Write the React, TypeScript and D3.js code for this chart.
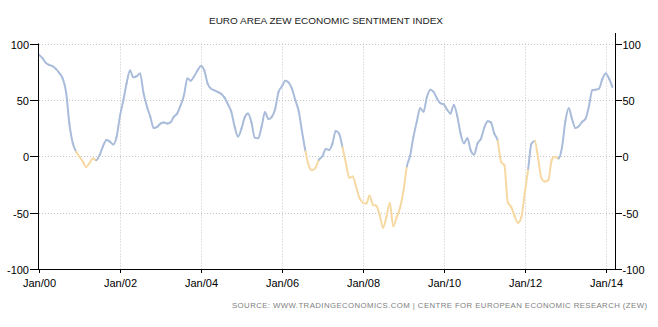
import React, { useMemo } from 'react';
import * as d3 from 'd3';

const W = 658;
const H = 327;

const startYear = 2000;
const v2000 = [90, 87, 83, 81, 80, 77.5, 74, 69, 57, 29, 11.5, 4];
const v2001 = [-0.5, -5, -9.5, -6, -2, -3.5, 1, 9, 14.5, 13, 10.5, 17];
const v2002 = [36, 50, 64.5, 76, 70, 71, 73.5, 56, 44, 35, 25, 26];
const v2003 = [29, 30, 29, 30, 35, 38, 45, 54, 69, 67, 71, 76];
const v2004 = [80, 76, 64.5, 60, 58.5, 57, 55.5, 52, 46, 39.5, 26, 17.5];
const v2005 = [24.5, 35, 38, 30, 16.5, 16, 26, 39, 33, 35, 42, 57];
const v2006 = [62, 67, 65.5, 60, 50, 40, 22, 4.5, -8.5, -12.5, -10, -3];
const v2007 = [0, 6.5, 5.5, 11, 22.5, 20, 8, -6, -19, -18, -27, -37];
const v2008 = [-41, -42, -35, -43, -44, -52, -63.5, -53.5, -41.5, -62, -54, -46];
const v2009 = [-31, -9, 0, 17, 30.5, 42.5, 39.5, 52.5, 59, 57, 51, 47];
const v2010 = [46, 41, 38, 45.5, 36, 20, 11.5, 16, 5, 1.5, 11.5, 15.5];
const v2011 = [25.5, 31, 30, 20, 14, -5, -8, -41, -45, -53, -59, -54];
const v2012 = [-32.5, -11, 11, 13.5, -2.5, -20, -22.5, -21, -3, -0.5, -2, 7.5];
const v2013 = [31, 42.5, 33.5, 25, 26.5, 30.5, 33, 44, 58.5, 59, 60, 68.5];
const v2014 = [73.5, 68.5, 61.5];

const values: number[] = [
  ...v2000, ...v2001, ...v2002, ...v2003, ...v2004, ...v2005, ...v2006, ...v2007,
  ...v2008, ...v2009, ...v2010, ...v2011, ...v2012, ...v2013, ...v2014,
];

const yTicks = [-100, -50, 0, 50, 100];
const xTickYears = [2000, 2002, 2004, 2006, 2008, 2010, 2012, 2014];
const title = 'EURO AREA ZEW ECONOMIC SENTIMENT INDEX';
const source = 'SOURCE:  WWW.TRADINGECONOMICS.COM   |   CENTRE  FOR  EUROPEAN  ECONOMIC  RESEARCH  (ZEW)';

const BLUE = '#a9bcda';
const YELLOW = '#f6d9a2';
const FONT = '"Liberation Sans", Arial, sans-serif';

function splitSegments(pts: [number, number][]): string[] {
  const segs: string[] = [];
  let cx = 0;
  let cy = 0;
  const ctx: any = {
    moveTo(x: number, y: number) { cx = x; cy = y; },
    lineTo(x: number, y: number) { segs.push(`M${cx},${cy}L${x},${y}`); cx = x; cy = y; },
    bezierCurveTo(a: number, b: number, c: number, d: number, x: number, y: number) {
      segs.push(`M${cx},${cy}C${a},${b},${c},${d},${x},${y}`); cx = x; cy = y;
    },
    closePath() {},
  };
  d3.line().curve(d3.curveMonotoneX).context(ctx)(pts);
  return segs;
}

export default function App() {
  const left = 39;
  const right = 615;
  const top = 43.5;
  const bottom = 269;

  const x = d3.scaleTime()
    .domain([new Date(startYear, 0, 1), new Date(2014, 2, 25)])
    .range([left, right]);
  const y = d3.scaleLinear().domain([-100, 100]).range([bottom, top]);

  const data = values.map((v, i) => ({ date: new Date(startYear, i, 1), v }));

  const segs = useMemo(() => {
    const pts = data.map((d) => [x(d.date), y(d.v)] as [number, number]);
    return splitSegments(pts);
  }, []);

  return (
    <svg width={W} height={H} style={{ position: 'absolute', left: 0, top: 0, background: '#fff' }}>
      <rect x={0} y={0} width={W} height={H} fill="#fff" />
      {/* horizontal grid */}
      {yTicks.filter((t) => t !== -100).map((t) => (
        <line key={'hg' + t} x1={left} x2={right} y1={Math.round(y(t)) + 0.5} y2={Math.round(y(t)) + 0.5}
          stroke="#c4c4c4" strokeWidth={1} strokeDasharray="1,2" />
      ))}
      {/* vertical grid */}
      {xTickYears.filter((yr) => yr !== startYear).map((yr) => {
        const xx = Math.round(x(new Date(yr, 0, 1))) + 0.5;
        return (
          <line key={'vg' + yr} x1={xx} x2={xx} y1={top} y2={bottom}
            stroke="#c4c4c4" strokeWidth={1} strokeDasharray="1,2" />
        );
      })}

      {/* series */}
      <g fill="none" strokeWidth={2} strokeLinecap="round" strokeLinejoin="round">
        {segs.map((d, i) => {
          const v = values[Math.min(i + 1, values.length - 1)];
          return <path key={i} d={d} stroke={v < 0 ? YELLOW : BLUE} />;
        })}
      </g>

      {/* axes */}
      <line x1={left - 0.5} x2={left - 0.5} y1={top} y2={bottom} stroke="#000" />
      <line x1={right + 0.5} x2={right + 0.5} y1={33} y2={bottom} stroke="#000" />
      <line x1={left - 1} x2={right + 1} y1={bottom + 0.5} y2={bottom + 0.5} stroke="#000" />

      {yTicks.map((t) => {
        const yy = Math.round(y(t)) + 0.5;
        return (
          <g key={'yt' + t}>
            <line x1={left - 9} x2={left} y1={yy} y2={yy} stroke="#000" />
            <text x={left - 10} y={yy + 4} textAnchor="end" fontFamily={FONT} fontSize={11} fill="#000">{t}</text>
            <line x1={right} x2={right + 7} y1={yy} y2={yy} stroke="#000" />
            <text x={right + 7.5} y={yy + 4} textAnchor="start" fontFamily={FONT} fontSize={11} fill="#000">{t}</text>
          </g>
        );
      })}

      {xTickYears.map((yr) => {
        const xx = Math.round(x(new Date(yr, 0, 1))) + 0.5;
        return (
          <g key={'xt' + yr}>
            <line x1={xx} x2={xx} y1={bottom} y2={bottom + 4} stroke="#000" />
            <text x={xx} y={287} textAnchor="middle" fontFamily={FONT} fontSize={11} fill="#000">
              {'Jan/' + String(yr).slice(2)}
            </text>
          </g>
        );
      })}

      <text x={326} y={23.5} textAnchor="middle" fontFamily={FONT} fontSize={9.6} fill="#222"
        textLength={234} lengthAdjust="spacingAndGlyphs">{title}</text>
      <text x={647} y={307.5} textAnchor="end" fontFamily={FONT} fontSize={7.8} fill="#808080"
        textLength={415} lengthAdjust="spacing">{source}</text>
    </svg>
  );
}
